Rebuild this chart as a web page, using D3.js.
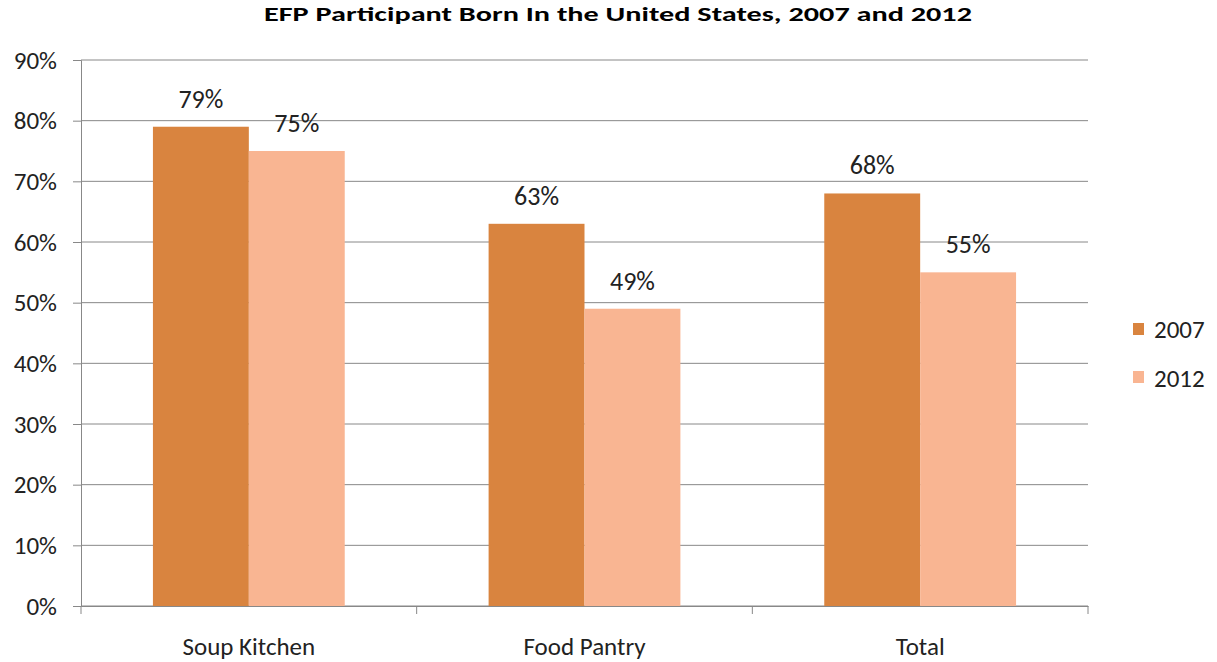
<!DOCTYPE html>
<meta charset="utf-8">
<head>
  <style>
    body { margin: 0; background: #fff; }
    svg { font-family: Carlito, 'Open Sans', sans-serif; }
  </style>
  <script src="https://d3js.org/d3.v7.min.js"></script>
</head>
<body>
  <div id="chart"></div>
  <script>
    // data
    const categories = ["Soup Kitchen", "Food Pantry", "Total"];
    const years = ["2007", "2012"];
    const values2007 = [79, 63, 68];
    const values2012 = [75, 49, 55];
    const yTicks = [0, 10, 20, 30, 40, 50, 60, 70, 80, 90];
    const colors = ["#D9843F", "#F9B592"];

    const W = 1217, H = 662;
    const margin = { top: 60, right: 129, bottom: 56, left: 81 };
    const width = W - margin.left - margin.right,
      height = H - margin.top - margin.bottom;

    const data = categories.map((c, i) => ({ cat: c, vals: [values2007[i], values2012[i]] }));

    const svg = d3.select("#chart").append("svg")
      .attr("width", W).attr("height", H);

    const g = svg.append("g")
      .attr("transform", `translate(${margin.left},${margin.top})`);

    const x = d3.scaleBand().domain(categories).range([0, width]).padding(0);
    const xInner = d3.scaleBand().domain(years)
      .range([x.bandwidth() * 0.2143, x.bandwidth() * 0.7857]).padding(0);
    const y = d3.scaleLinear().domain([0, 90]).range([height, 0]);

    // gridlines
    g.append("g")
      .selectAll("line")
      .data(yTicks)
      .join("line")
      .attr("x1", 0).attr("x2", width)
      .attr("y1", d => y(d)).attr("y2", d => y(d))
      .attr("stroke", "#888").attr("stroke-width", 1);

    // y axis
    const yAxis = g.append("g")
      .call(d3.axisLeft(y).tickValues(yTicks).tickSize(8).tickPadding(16).tickFormat(d => d + "%"))
      .attr("font-family", null).attr("font-size", null);
    yAxis.select(".domain").attr("stroke", "#888");
    yAxis.selectAll(".tick line").attr("stroke", "#888");
    yAxis.selectAll("text").style("font-size", "25px").attr("fill", "#222");

    // x axis
    const xAxis = g.append("g").attr("transform", `translate(0,${height})`)
      .call(d3.axisBottom(x).tickSize(0).tickPadding(30))
      .attr("font-family", null).attr("font-size", null);
    xAxis.select(".domain").attr("stroke", "#888");
    xAxis.selectAll(".tick text")
      .attr("dy", null).attr("y", 49)
      .style("font-size", "25px").attr("fill", "#222");
    xAxis.selectAll(".sep")
      .data(d3.range(categories.length + 1))
      .join("line")
      .attr("class", "sep")
      .attr("x1", d => d * x.step()).attr("x2", d => d * x.step())
      .attr("y1", 0).attr("y2", 8)
      .attr("stroke", "#888");

    // bars
    const groups = g.append("g").selectAll("g")
      .data(data)
      .join("g")
      .attr("transform", d => `translate(${x(d.cat)},0)`);

    groups.selectAll("rect")
      .data(d => d.vals.map((v, i) => ({ year: years[i], v, i })))
      .join("rect")
      .attr("x", d => xInner(d.year))
      .attr("y", d => y(d.v))
      .attr("width", xInner.bandwidth())
      .attr("height", d => height - y(d.v))
      .attr("fill", d => colors[d.i]);

    groups.selectAll("text")
      .data(d => d.vals.map((v, i) => ({ year: years[i], v, i })))
      .join("text")
      .attr("x", d => xInner(d.year) + xInner.bandwidth() / 2)
      .attr("y", d => y(d.v) - 19)
      .attr("text-anchor", "middle")
      .style("font-size", "26px")
      .attr("fill", "#222")
      .text(d => d.v + "%");

    // title (stretched horizontally like the original)
    svg.append("text")
      .attr("transform", "translate(618,21) scale(1.44,1)")
      .attr("text-anchor", "middle")
      .style("font-size", "21px")
      .style("font-weight", "bold")
      .text("EFP Participant Born In the United States, 2007 and 2012");

    // legend
    const legend = svg.append("g").attr("transform", "translate(1133,323)");
    legend.selectAll("rect")
      .data(years)
      .join("rect")
      .attr("x", 0).attr("y", (d, i) => i * 48)
      .attr("width", 11).attr("height", 12)
      .attr("fill", (d, i) => colors[i]);
    legend.selectAll("text")
      .data(years)
      .join("text")
      .attr("x", 21).attr("y", (d, i) => i * 49 + 15)
      .style("font-size", "25px")
      .attr("fill", "#222")
      .text(d => d);
  </script>
</body>
